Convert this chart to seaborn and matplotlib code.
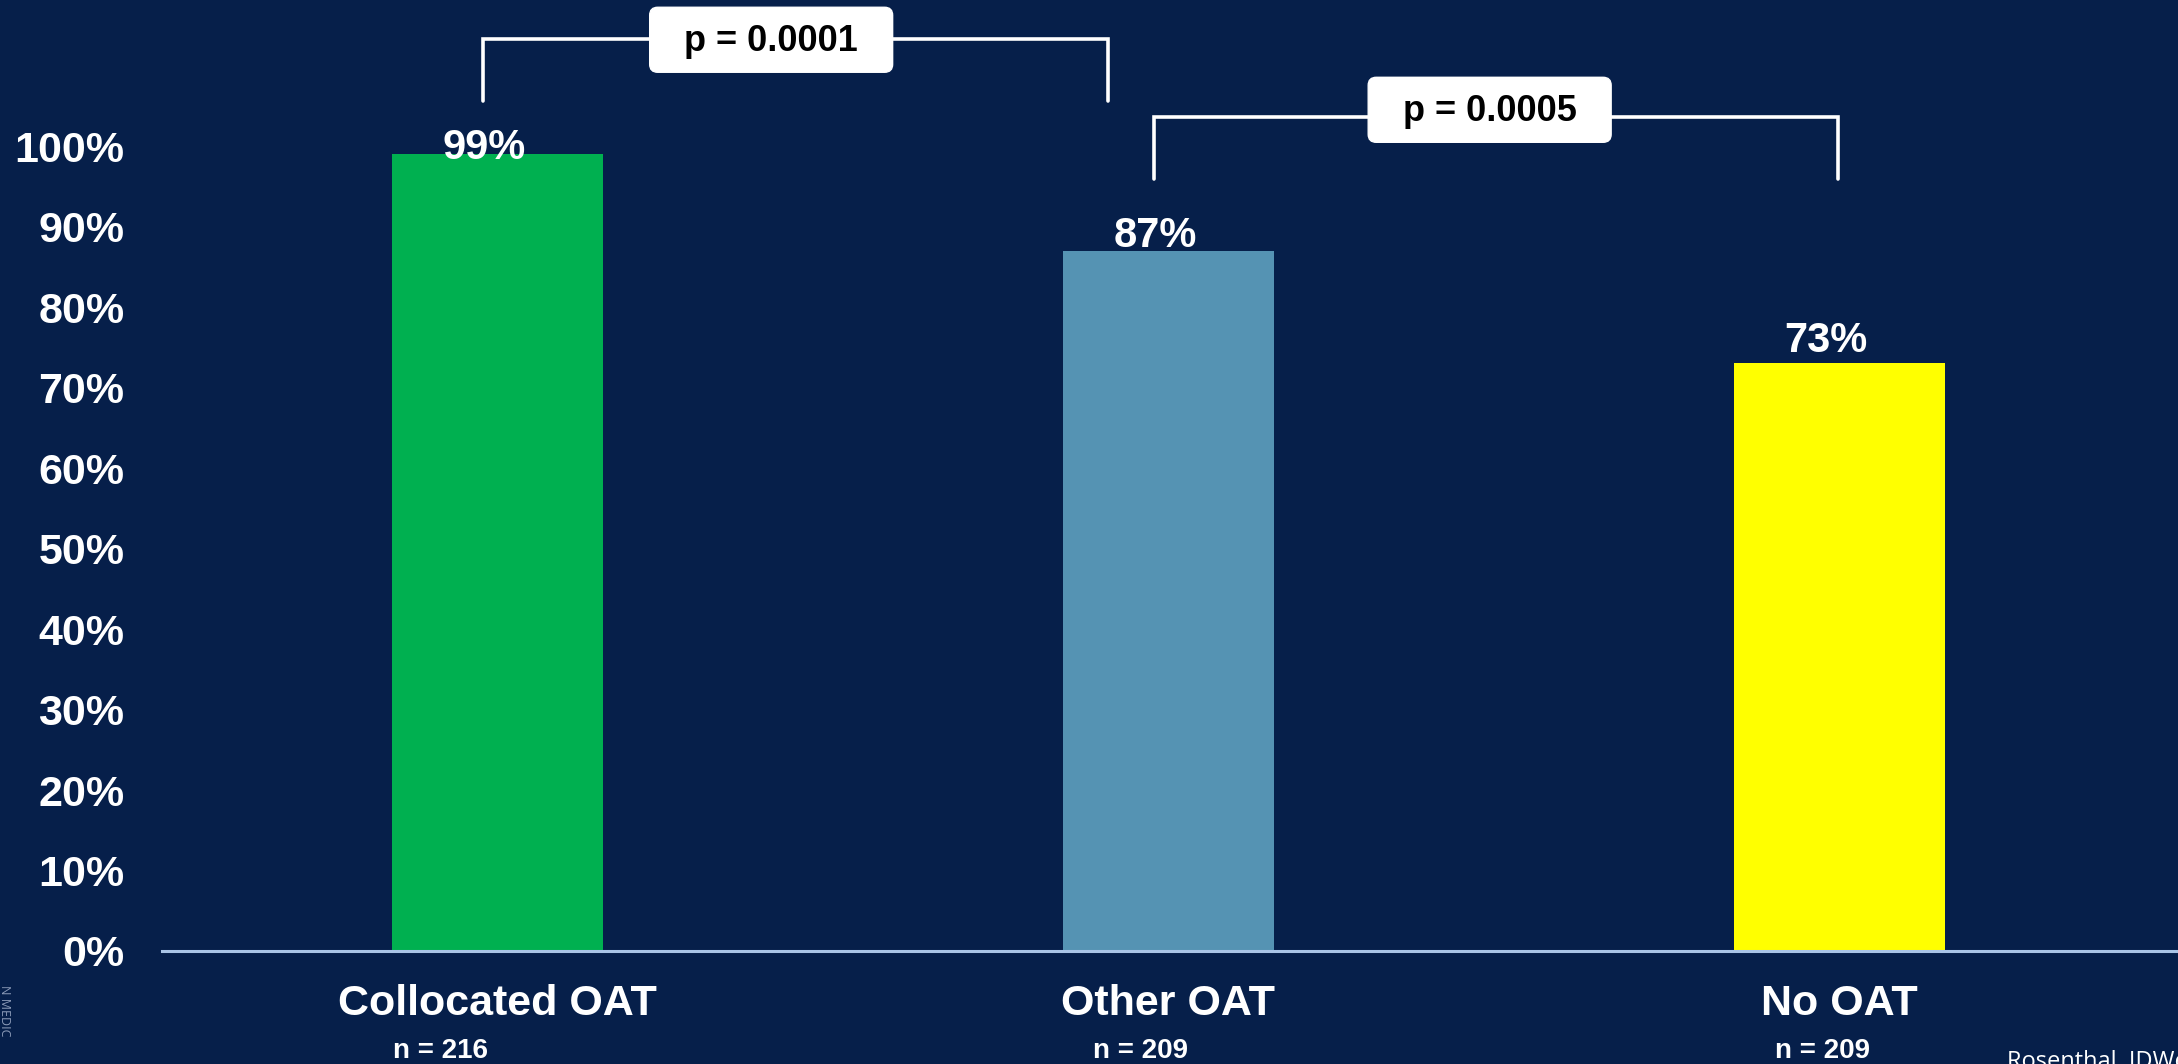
import matplotlib
matplotlib.use("Agg")
import matplotlib.pyplot as plt
from matplotlib.patches import FancyBboxPatch
import seaborn as sns
import pandas as pd

# ---- data ----
categories = ["Collocated OAT", "Other OAT", "No OAT"]
values = [0.99, 0.87, 0.73]
value_labels = ["99%", "87%", "73%"]
n_labels = ["n = 216", "n = 209", "n = 209"]
bar_colors = ["#00B050", "#5593B3", "#FFFF00"]
y_ticks = [0.0, 0.1, 0.2, 0.3, 0.4, 0.5, 0.6, 0.7, 0.8, 0.9, 1.0]
y_tick_labels = ["0%", "10%", "20%", "30%", "40%", "50%", "60%", "70%", "80%", "90%", "100%"]
comparisons = [(0, 1, "p = 0.0001"), (1, 2, "p = 0.0005")]
source_note = "Rosenthal, IDWeek"

BG = "#061F4A"
W, H, DPI = 2178, 1064, 100

sns.set_theme(style="white")
plt.rcParams["font.family"] = ["Liberation Sans", "DejaVu Sans"]

fig = plt.figure(figsize=(W / DPI, H / DPI), dpi=DPI, facecolor=BG)
ax = fig.add_axes([162 / W, 113 / H, (W - 162) / W, 951 / H])
ax.set_facecolor(BG)

df = pd.DataFrame({"group": categories, "pct": values})
sns.barplot(data=df, x="group", y="pct", hue="group", palette=bar_colors,
            width=0.314, saturation=1.0, legend=False, linewidth=0,
            edgecolor="none", ax=ax)

ax.set_xlim(-0.5, 2.505)
ax.set_ylim(0, 1.1814)
ax.set_xlabel("")
ax.set_ylabel("")

ax.set_yticks(y_ticks)
ax.set_yticklabels(y_tick_labels, fontsize=31, fontweight="bold", color="white")
ax.tick_params(axis="y", length=0, pad=27)
ax.tick_params(axis="x", length=0, pad=24, labelsize=31, labelcolor="white")
for lbl in ax.get_xticklabels():
    lbl.set_fontweight("bold")

for side in ["top", "right", "left"]:
    ax.spines[side].set_visible(False)
ax.spines["bottom"].set_color("#A9C4E6")
ax.spines["bottom"].set_linewidth(2.2)
ax.spines["bottom"].set_zorder(6)
ax.grid(False)

# value labels above bars (pixel offsets from bar tops)
label_offsets = [-5, 4, 11]
for i, (v, txt) in enumerate(zip(values, value_labels)):
    ax.annotate(txt, xy=(i - 0.02, v), xytext=(0, label_offsets[i] * 72 / DPI),
                textcoords="offset points", ha="center", va="baseline",
                fontsize=30, fontweight="bold", color="white", zorder=5)

# sample sizes under category names
n_x = [-0.155, -0.112, -0.095]
for i, txt in enumerate(n_labels):
    ax.text(i + n_x[i], -0.124, txt, ha="left", va="center",
            fontsize=20, fontweight="bold", color="white", clip_on=False)

# significance brackets with boxed p-values
bracket_geom = [
    # left leg x, right leg x, top y, leg bottom y, box center x, box center y
    (-0.022, 0.91, 1.133, 1.056, 0.408, 1.132),
    (0.979, 1.998, 1.036, 0.959, 1.479, 1.045),
]
px_x = 1 / 671.0
px_y = 1 / 805.0
for (a, b, ptxt), (xl, xr, yt, yb, bx, by) in zip(comparisons, bracket_geom):
    ax.plot([xl, xl, xr, xr], [yb, yt, yt, yb], color="white", lw=2.6,
            solid_joinstyle="miter", zorder=3, clip_on=False)
    bw, bh = 243 * px_x, 65 * px_y
    box = FancyBboxPatch((bx - bw / 2, by - bh / 2), bw, bh,
                         boxstyle="round,pad=0,rounding_size=0.012",
                         mutation_aspect=px_y / px_x,
                         facecolor="white", edgecolor="white", lw=1,
                         zorder=4, clip_on=False)
    ax.add_patch(box)
    ax.text(bx, by - 2 * px_y, ptxt, ha="center", va="center", fontsize=26,
            fontweight="bold", color="black", zorder=5)

# footnote and side mark
fig.text(2007 / W, (H - 1050) / H, source_note, ha="left", va="top",
         fontsize=17, color="white", family=["Open Sans", "DejaVu Sans"])
fig.text(-2 / W, (H - 985) / H, "N MEDIC", ha="left", va="top", rotation=-90,
         fontsize=9, color="#8C9BB8", family=["Open Sans", "DejaVu Sans"])

fig.savefig("out.png", dpi=DPI, facecolor=BG)
